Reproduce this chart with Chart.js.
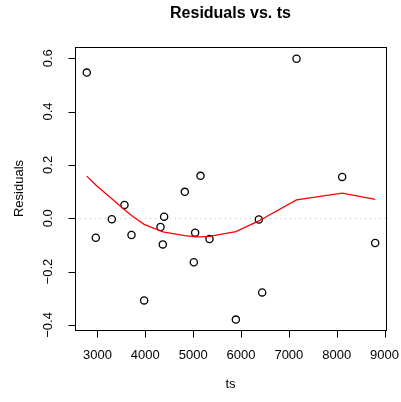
<!DOCTYPE html>
<html>
<head>
<meta charset="utf-8">
<script src="https://cdn.jsdelivr.net/npm/chart.js@4.4.1/dist/chart.umd.min.js"></script>
<style>
  html, body { margin: 0; padding: 0; background: #fff; }
  #wrap { width: 401px; height: 402px; }
</style>
</head>
<body>
<div id="wrap"><canvas id="residChart" width="401" height="402"></canvas></div>
<script>
// valores
var ts = [2776, 2965, 3299, 3564, 3711, 3975, 4317, 4365, 4393, 4825,
          5013, 5041, 5153, 5341, 5892, 6372, 6442, 7160, 8114, 8804];
var residuals = [0.546, -0.073, -0.004, 0.050, -0.063, -0.308, -0.033, -0.098, 0.006, 0.099,
                 -0.165, -0.054, 0.159, -0.078, -0.380, -0.005, -0.278, 0.598, 0.155, -0.093];
var smoothFit = [0.158, 0.125, 0.073, 0.032, 0.010, -0.023, -0.047, -0.050, -0.052, -0.065,
                 -0.069, -0.070, -0.070, -0.068, -0.050, -0.010, -0.003, 0.069, 0.094, 0.071];
var xTicks = [3000, 4000, 5000, 6000, 7000, 8000, 9000];
var yTicks = [-0.4, -0.2, 0.0, 0.2, 0.4, 0.6];
var yTickLabels = ['\u22120.4', '\u22120.2', '0.0', '0.2', '0.4', '0.6'];

var fontFam = '"Liberation Sans", Arial, Helvetica, sans-serif';

var puntos = ts.map(function (t, i) { return { x: t, y: residuals[i] }; });
var curva = ts.map(function (t, i) { return { x: t, y: smoothFit[i] }; });

// ejes, caja y titulos al estilo R
var ejesR = {
    id: 'ejesR',
    beforeDatasetsDraw: function (chart) {
        var ctx = chart.ctx, a = chart.chartArea;
        var y0 = Math.round(chart.scales.y.getPixelForValue(0)) + 0.5;
        ctx.save();
        ctx.strokeStyle = '#bebebe';
        ctx.lineWidth = 1;
        ctx.setLineDash([1, 4]);
        ctx.beginPath();
        ctx.moveTo(a.left, y0);
        ctx.lineTo(a.right, y0);
        ctx.stroke();
        ctx.restore();
    },
    afterDraw: function (chart) {
        var ctx = chart.ctx, a = chart.chartArea;
        var sx = chart.scales.x, sy = chart.scales.y;
        ctx.save();
        ctx.strokeStyle = '#000';
        ctx.lineWidth = 1;
        ctx.strokeRect(Math.round(a.left) + 0.5, Math.round(a.top) + 0.5,
                       Math.round(a.right - a.left), Math.round(a.bottom - a.top));

        ctx.fillStyle = '#000';
        ctx.font = '13px ' + fontFam;

        // eje x
        var yb = Math.round(a.bottom) + 0.5;
        ctx.beginPath();
        ctx.moveTo(Math.round(sx.getPixelForValue(xTicks[0])) + 0.5, yb);
        ctx.lineTo(Math.round(sx.getPixelForValue(xTicks[xTicks.length - 1])) + 0.5, yb);
        xTicks.forEach(function (v) {
            var px = Math.round(sx.getPixelForValue(v)) + 0.5;
            ctx.moveTo(px, yb);
            ctx.lineTo(px, yb + 7);
        });
        ctx.stroke();
        ctx.textAlign = 'center';
        ctx.textBaseline = 'middle';
        xTicks.forEach(function (v) {
            ctx.fillText(String(v), sx.getPixelForValue(v), a.bottom + 25);
        });
        ctx.fillText('ts', (a.left + a.right) / 2, a.bottom + 54);

        // eje y
        var xl = Math.round(a.left) + 0.5;
        ctx.beginPath();
        ctx.moveTo(xl, Math.round(sy.getPixelForValue(yTicks[0])) + 0.5);
        ctx.lineTo(xl, Math.round(sy.getPixelForValue(yTicks[yTicks.length - 1])) + 0.5);
        yTicks.forEach(function (v) {
            var py = Math.round(sy.getPixelForValue(v)) + 0.5;
            ctx.moveTo(xl, py);
            ctx.lineTo(xl - 7, py);
        });
        ctx.stroke();
        yTicks.forEach(function (v, i) {
            ctx.save();
            ctx.translate(a.left - 27, sy.getPixelForValue(v));
            ctx.rotate(-Math.PI / 2);
            ctx.fillText(yTickLabels[i], 0, 0);
            ctx.restore();
        });
        ctx.save();
        ctx.translate(a.left - 56, (a.top + a.bottom) / 2);
        ctx.rotate(-Math.PI / 2);
        ctx.fillText('Residuals', 0, 0);
        ctx.restore();

        // titulo
        ctx.font = 'bold 16px ' + fontFam;
        ctx.fillText('Residuals vs. ts', (a.left + a.right) / 2, 14);
        ctx.restore();
    }
};

var ctx = document.getElementById('residChart').getContext('2d');
var residChart = new Chart(ctx, {
    type: 'scatter',
    data: {
        datasets: [{
            label: 'Residuals',
            data: puntos,
            pointRadius: 3.6,
            pointHoverRadius: 3.6,
            borderColor: '#000',
            backgroundColor: 'rgba(0,0,0,0)',
            borderWidth: 1.3,
            order: 2
        }, {
            label: 'lowess',
            data: curva,
            showLine: true,
            pointRadius: 0,
            borderColor: '#ff0000',
            borderWidth: 1.3,
            fill: false,
            tension: 0,
            order: 1
        }]
    },
    options: {
        responsive: false,
        animation: false,
        layout: { padding: { left: 75, right: 15, top: 47, bottom: 72 } },
        plugins: {
            legend: { display: false },
            tooltip: { enabled: false }
        },
        scales: {
            x: { type: 'linear', min: 2530, max: 9030, display: false },
            y: { type: 'linear', min: -0.419, max: 0.642, display: false }
        }
    },
    plugins: [ejesR]
});
</script>
</body>
</html>
